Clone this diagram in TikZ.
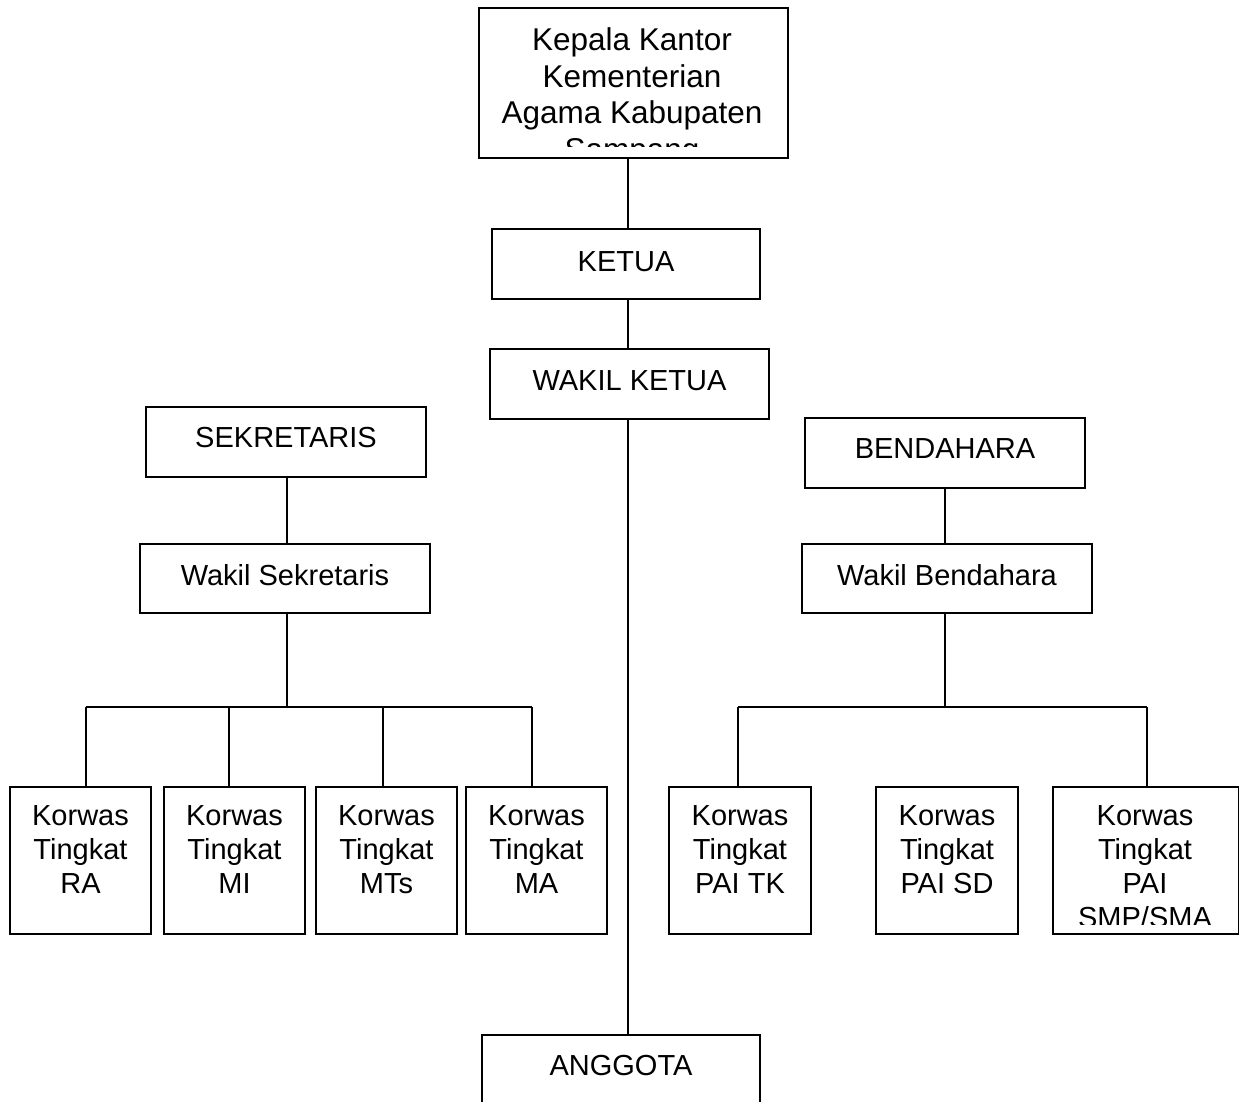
\documentclass[tikz,border=0pt]{standalone}
\usepackage{fontspec}
\setmainfont{Liberation Sans}
\begin{document}
\begin{tikzpicture}[x=1pt,y=-1pt,
  box/.style={draw=black, line width=1.6pt, inner sep=0pt, fill=white},
  lbl/.style={anchor=base, inner sep=0pt, font=\fontsize{29}{34}\selectfont},
  biglbl/.style={anchor=base, inner sep=0pt, font=\fontsize{31.5}{37}\selectfont},
  conn/.style={draw=black, line width=1.6pt}]
\useasboundingbox[fill=white] (0,0) rectangle (1239,1101);

% boxes
\node[box, minimum width=309pt, minimum height=150pt] (top) at (633.5,83) {};
\node[box, minimum width=268pt, minimum height=70pt] (ketua) at (626,264) {};
\node[box, minimum width=279pt, minimum height=70pt] (wakil) at (629.5,384) {};
\node[box, minimum width=280pt, minimum height=70pt] (sek) at (286,442) {};
\node[box, minimum width=290pt, minimum height=69pt] (wsek) at (285,578.5) {};
\node[box, minimum width=280pt, minimum height=70pt] (bend) at (945,453) {};
\node[box, minimum width=290pt, minimum height=69pt] (wbend) at (947,578.5) {};
\node[box, minimum width=141pt, minimum height=147pt] (ra) at (80.5,860.5) {};
\node[box, minimum width=141pt, minimum height=147pt] (mi) at (234.5,860.5) {};
\node[box, minimum width=141pt, minimum height=147pt] (mts) at (386.5,860.5) {};
\node[box, minimum width=141pt, minimum height=147pt] (ma) at (536.5,860.5) {};
\node[box, minimum width=142pt, minimum height=147pt] (tk) at (740,860.5) {};
\node[box, minimum width=142pt, minimum height=147pt] (sd) at (947,860.5) {};
\node[box, minimum width=186pt, minimum height=147pt] (smp) at (1146,860.5) {};
\node[box, minimum width=278pt, minimum height=85pt] (anggota) at (621,1077.5) {};

% connector reference points
\coordinate (spine) at (628,0);
\coordinate (lsp) at (287,707);
\coordinate (rsp) at (945,707);
\coordinate (ra-d) at (86,707);
\coordinate (mi-d) at (229,707);
\coordinate (mts-d) at (383,707);
\coordinate (ma-d) at (532,707);
\coordinate (tk-d) at (738,707);
\coordinate (smp-d) at (1147,707);

% connectors
\draw[conn] (top.south -| spine) -- (ketua.north -| spine);
\draw[conn] (ketua.south -| spine) -- (wakil.north -| spine);
\draw[conn] (wakil.south -| spine) -- (anggota.north -| spine);
\draw[conn] (sek.south -| lsp) -- (wsek.north -| lsp);
\draw[conn] (wsek.south -| lsp) -- (lsp);
\draw[conn] (ra-d) -- (ma-d);
\draw[conn] (ra-d) -- (ra.north -| ra-d);
\draw[conn] (mi-d) -- (mi.north -| mi-d);
\draw[conn] (mts-d) -- (mts.north -| mts-d);
\draw[conn] (ma-d) -- (ma.north -| ma-d);
\draw[conn] (bend.south -| rsp) -- (wbend.north -| rsp);
\draw[conn] (wbend.south -| rsp) -- (rsp);
\draw[conn] (tk-d) -- (smp-d);
\draw[conn] (tk-d) -- (tk.north -| tk-d);
\draw[conn] (smp-d) -- (smp.north -| smp-d);

% texts
\begin{scope}
\clip (479,8) rectangle (788,146);
\node[biglbl] (t1) at (632,50) {Kepala Kantor};
\node[biglbl] (t2) at (632,87) {Kementerian};
\node[biglbl] (t3) at (632,123.5) {Agama Kabupaten};
\node[biglbl] (t4) at (632,160) {Sampang};
\end{scope}
\node[lbl] (tketua) at (626,271) {KETUA};
\node[lbl] (twakil) at (629.5,390) {WAKIL KETUA};
\node[lbl] (tsek) at (286,447) {SEKRETARIS};
\node[lbl] (twsek) at (285,585) {Wakil Sekretaris};
\node[lbl] (tbend) at (945,458) {BENDAHARA};
\node[lbl] (twbend) at (947,585) {Wakil Bendahara};
\node[lbl] (tang) at (621,1075) {ANGGOTA};

\foreach \n/\x/\c in {ra/80.5/RA, mi/234.5/MI, mts/386.5/MTs, ma/536.5/MA, tk/740/PAI TK, sd/947/PAI SD}{
  \node[lbl] (\n-a) at (\x,825) {Korwas};
  \node[lbl] (\n-b) at (\x,859) {Tingkat};
  \node[lbl] (\n-c) at (\x,893) {\c};
}
\begin{scope}
\clip (1053,787) rectangle (1239,924);
\node[lbl] (smp-a) at (1145,825) {Korwas};
\node[lbl] (smp-b) at (1145,859) {Tingkat};
\node[lbl] (smp-c) at (1145,893) {PAI};
\node[lbl] (smp-e) at (1145,927) {SMP/SMA};
\end{scope}
\end{tikzpicture}
\end{document}
